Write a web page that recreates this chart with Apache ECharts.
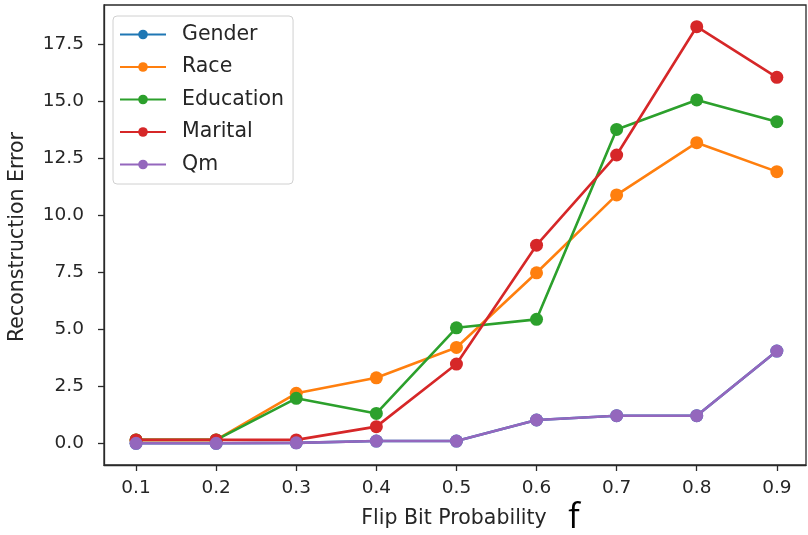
<!DOCTYPE html>
<html>
<head>
<meta charset="utf-8">
<script src="https://cdn.jsdelivr.net/npm/echarts@6/dist/echarts.min.js"></script>
<style>
  html, body { margin: 0; padding: 0; background: #fff; }
  #chart { width: 808px; height: 535px; }
</style>
</head>
<body>
<div id="chart"></div>
<script>
// Flip bit probability on the x axis
const probabilities = [0.1, 0.2, 0.3, 0.4, 0.5, 0.6, 0.7, 0.8, 0.9];

// Reconstruction error per attribute
const gender    = [0.0, 0.0, 0.02, 0.1, 0.1, 1.02, 1.21, 1.21, 4.04];
const race      = [0.15, 0.15, 2.19, 2.87, 4.2, 7.47, 10.88, 13.17, 11.9];
const education = [0.15, 0.15, 1.97, 1.31, 5.06, 5.43, 13.75, 15.04, 14.09];
const marital   = [0.15, 0.15, 0.15, 0.73, 3.47, 8.68, 12.63, 18.25, 16.03];
const qm        = [0.0, 0.0, 0.02, 0.1, 0.1, 1.02, 1.21, 1.21, 4.04];

const seriesNames = ['Gender', 'Race', 'Education', 'Marital', 'Qm'];
const seriesData = [gender, race, education, marital, qm];
const colors = ['#1f77b4', '#ff7f0e', '#2ca02c', '#d62728', '#9467bd'];

const xTicks = [0.1, 0.2, 0.3, 0.4, 0.5, 0.6, 0.7, 0.8, 0.9];
const yTicks = [0, 2.5, 5, 7.5, 10, 12.5, 15, 17.5];

const font = 'DejaVu Sans';
const textColor = '#262626';
const frameColor = '#2a2a2a';

const chart = echarts.init(document.getElementById('chart'), null, { renderer: 'canvas' });

const axisCommon = {
  type: 'value',
  splitLine: { show: false },
  axisLine: { show: true, onZero: false, lineStyle: { color: frameColor, width: 1.3 } }
};

chart.setOption({
  animation: false,
  color: colors,
  textStyle: { fontFamily: font },
  grid: {
    left: 104, top: 5, width: 702, height: 460,
    show: true, borderColor: frameColor, borderWidth: 1.3,
    backgroundColor: 'transparent'
  },
  legend: {
    orient: 'vertical',
    left: 113, top: 16,
    padding: [8, 9, 9, 6],
    itemWidth: 46, itemHeight: 12, itemGap: 11.5,
    backgroundColor: 'rgba(255,255,255,0.85)',
    borderColor: '#d0d0d0', borderWidth: 1, borderRadius: 4,
    textStyle: { fontFamily: font, fontSize: 20.5, lineHeight: 20, color: textColor, padding: [0, 0, 0, 11] },
    data: seriesNames
  },
  xAxis: Object.assign({}, axisCommon, {
    min: 0.06, max: 0.9364,
    position: 'bottom',
    axisTick: { show: true, inside: false, length: 6, lineStyle: { color: frameColor, width: 1.3 }, customValues: xTicks },
    axisLabel: {
      customValues: xTicks, margin: 14,
      fontFamily: font, fontSize: 18.5, color: textColor,
      formatter: v => v.toFixed(1)
    }
  }),
  yAxis: Object.assign({}, axisCommon, {
    min: -0.95, max: 19.2,
    position: 'left',
    axisTick: { show: true, inside: false, length: 6, lineStyle: { color: frameColor, width: 1.3 }, customValues: yTicks },
    axisLabel: {
      customValues: yTicks, margin: 20,
      fontFamily: font, fontSize: 18.5, color: textColor,
      formatter: v => v.toFixed(1)
    }
  }),
  graphic: [
    {
      type: 'text', x: 18, y: 237, rotation: Math.PI / 2,
      style: { text: 'Reconstruction Error', font: '20.5px "DejaVu Sans"', fill: textColor, align: 'center', verticalAlign: 'middle' }
    },
    {
      type: 'text', x: 454, y: 519,
      style: { text: 'Flip Bit Probability', font: '20.5px "DejaVu Sans"', fill: textColor, align: 'center', verticalAlign: 'middle' }
    },
    {
      type: 'text', x: 574, y: 518,
      style: { text: 'f', font: '34px "Open Sans"', fill: '#000', align: 'center', verticalAlign: 'middle' }
    }
  ],
  series: seriesNames.map((name, i) => ({
    name: name,
    type: 'line',
    data: probabilities.map((p, j) => [p, seriesData[i][j]]),
    symbol: 'circle',
    symbolSize: 13,
    lineStyle: { width: 2.6, color: colors[i] },
    itemStyle: { color: colors[i] },
    z: 2 + i
  }))
});
</script>
</body>
</html>
